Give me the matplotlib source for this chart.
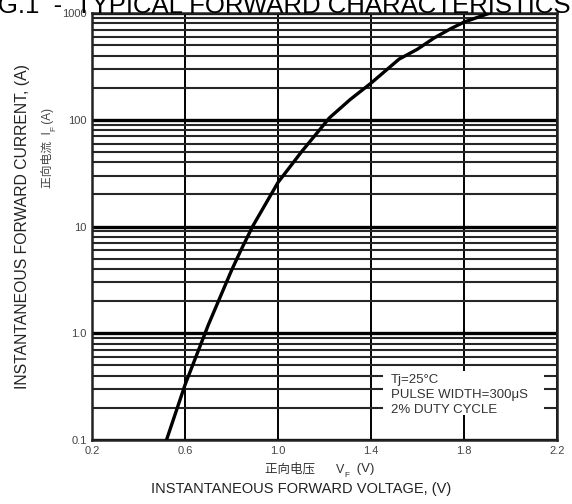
import matplotlib.pyplot as plt
from matplotlib.ticker import FixedLocator, LogLocator, NullFormatter
from matplotlib.patches import Rectangle

plt.rcParams['font.family'] = ['Liberation Sans', 'Noto Sans CJK SC', 'DejaVu Sans']

# forward voltage (V) vs instantaneous forward current (A)
vf = [0.52, 0.60, 0.70, 0.80, 0.84, 0.89, 1.00, 1.05, 1.10, 1.16, 1.22,
      1.31, 1.40, 1.52, 1.60, 1.67, 1.74, 1.80, 1.91]
i_f = [0.1, 0.33, 1.2, 3.9, 6.0, 10, 26, 36, 50, 72, 104,
       155, 221, 370, 460, 583, 710, 824, 1000]

x_ticks = [0.2, 0.6, 1.0, 1.4, 1.8, 2.2]
x_labels = ["0.2", "0.6", "1.0", "1.4", "1.8", "2.2"]
y_ticks = [0.1, 1, 10, 100, 1000]
y_labels = ["0.1", "1.0", "10", "100", "1000"]
notes = ["Tj=25°C", "PULSE WIDTH=300μS", "2% DUTY CYCLE"]

fig = plt.figure(figsize=(5.72, 5.04), dpi=100)
ax = fig.add_axes([0.161, 0.127, 0.813, 0.847])

ax.set_yscale('log')
ax.set_xlim(0.2, 2.2)
ax.set_ylim(0.1, 1000)

ax.xaxis.set_major_locator(FixedLocator(x_ticks))
ax.set_xticklabels(x_labels)
ax.yaxis.set_major_locator(FixedLocator(y_ticks))
ax.set_yticklabels(y_labels)
ax.yaxis.set_minor_locator(LogLocator(base=10, subs=range(2, 10)))
ax.yaxis.set_minor_formatter(NullFormatter())

ax.tick_params(which='both', length=0, labelsize=8, labelcolor='#444', pad=4)

# chart-paper grid
ax.grid(which='major', axis='x', color='black', lw=1.4)
ax.grid(which='major', axis='y', color='black', lw=2.4)
ax.grid(which='minor', axis='y', color='#262626', lw=1.5)
ax.set_axisbelow(True)
for s in ax.spines.values():
    s.set_color('#222')
    s.set_linewidth(1.8)

ax.plot(vf, i_f, color='black', lw=2.4, solid_capstyle='round', zorder=3)

# test condition block
ax.add_patch(Rectangle((0.626, 0.058), 0.345, 0.104, transform=ax.transAxes,
                       facecolor='white', edgecolor='none', zorder=4))
for k, t in enumerate(notes):
    ax.text(0.642, 0.141 - k * 0.035, t, transform=ax.transAxes, fontsize=9.5,
            color='#333', va='center', ha='left', zorder=5)

# x axis titles
xc = fig.text(0.463, 0.069, "正向电压      V", fontsize=9, color='#333',
              ha='left', va='center')
ax.annotate("F", xy=(1, 0), xycoords=xc, fontsize=6, color='#333',
            ha='left', va='center')
ax.annotate(" (V)", xy=(1, 0), xycoords=xc, xytext=(6, 0),
            textcoords='offset points', fontsize=9.5, color='#333',
            ha='left', va='bottom')
fig.text(0.526, 0.030, "INSTANTANEOUS FORWARD VOLTAGE, (V)",
         fontsize=10.5, color='#222', ha='center', va='center')

# y axis titles
fig.text(0.040, 0.55, "INSTANTANEOUS FORWARD CURRENT, (A)", rotation=90,
         fontsize=11.3, color='#222', ha='center', va='center')
yc = fig.text(0.084, 0.627, "正向电流  I", rotation=90,
              fontsize=8.5, color='#444', ha='center', va='bottom')
ax.annotate("F", xy=(1, 1), xycoords=yc, rotation=90, fontsize=6,
            color='#444', ha='center', va='bottom')
ax.annotate(" (A)", xy=(0.5, 1), xycoords=yc, xytext=(0, 3),
            textcoords='offset points', rotation=90, fontsize=8.5,
            color='#444', ha='center', va='bottom')

fig.text(-0.044, 0.975, "FIG.1  -  TYPICAL FORWARD CHARACTERISTICS",
         fontsize=18.5, color='black', ha='left', va='baseline')

fig.savefig('out.png', dpi=100)
